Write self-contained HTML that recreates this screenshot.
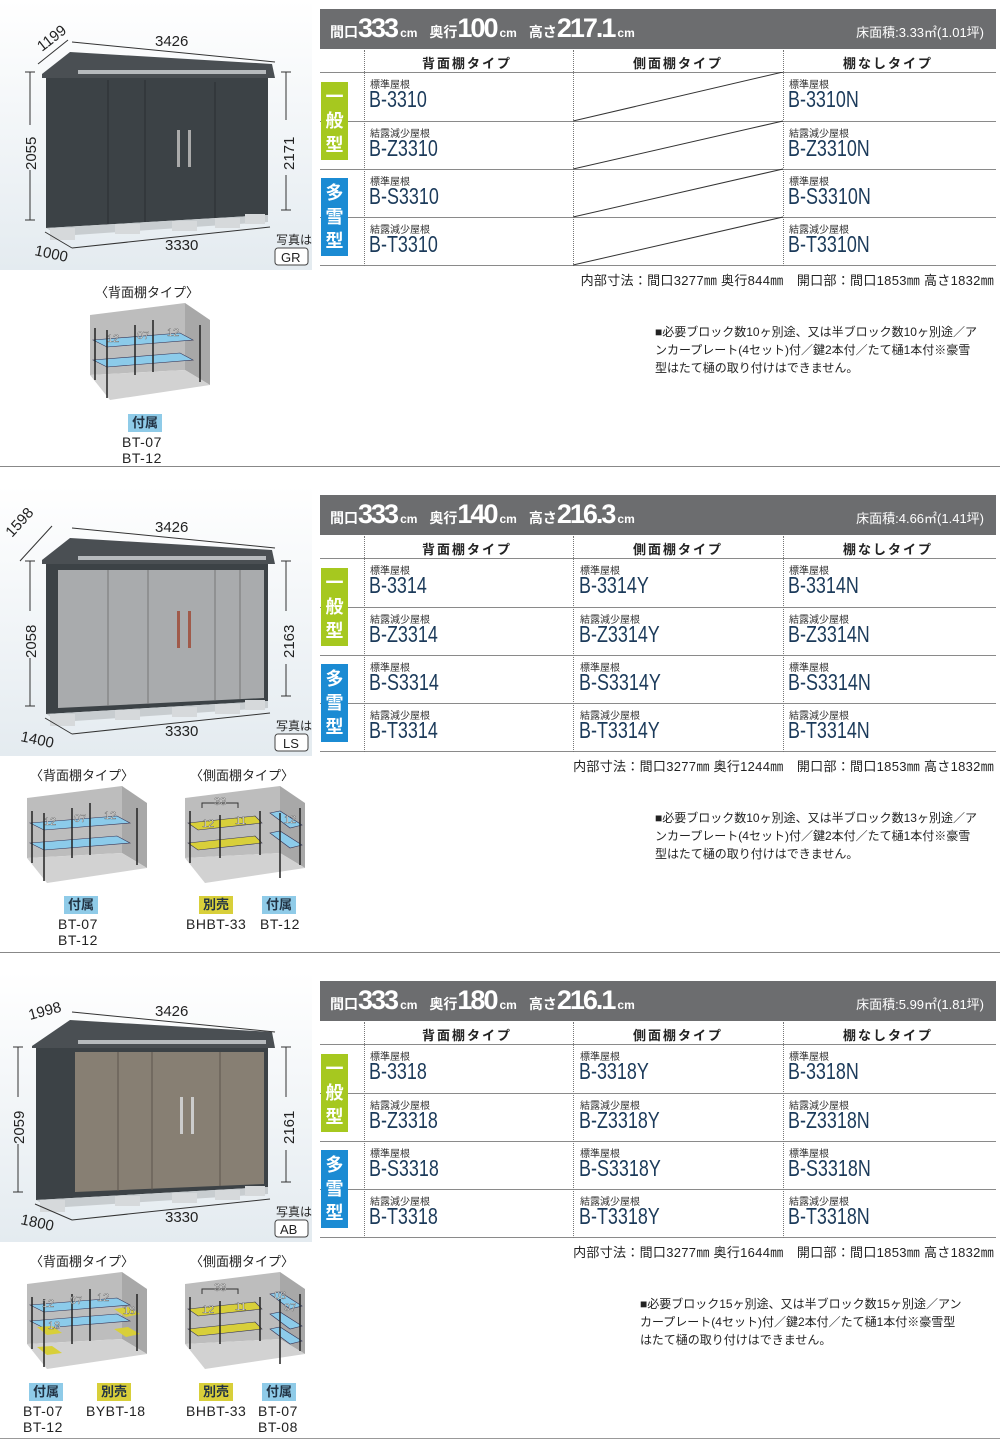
<!DOCTYPE html>
<html><head><meta charset="utf-8">
<style>
*{margin:0;padding:0;box-sizing:border-box}
body{width:1000px;height:1446px;background:#fff;position:relative;overflow:hidden;font-family:"Liberation Sans","Noto Sans CJK JP",sans-serif;color:#222}
.a{position:absolute}
.hdr{position:absolute;left:320px;width:676px;height:40px;background:#6c6d6f;color:#fff}
.hdr .t{position:absolute;left:10px;top:4px;font-weight:bold;font-size:14px;white-space:nowrap}
.hdr .t b{font-size:27px;letter-spacing:-2px}
.hdr .t i{font-style:normal;font-size:12px;margin:0 12px 0 3px}
.hdr .r{position:absolute;right:12px;top:13px;font-size:13px}
.ch{position:absolute;font-weight:bold;font-size:13px;letter-spacing:2px;text-align:center;width:200px}
.hl{position:absolute;left:320px;width:676px;height:1px;background:#8a8a8a}
.vl{position:absolute;width:0;border-left:1px dotted #777}
.tag{position:absolute;left:321px;width:27px;height:78px;color:#fff;font-weight:bold;font-size:18px;line-height:24px;text-align:center;padding-top:3px}
.g{background:#a6c81f}.bl{background:#1b8bd3}
.sm{position:absolute;font-size:10px;color:#333}
.md{position:absolute;font-size:23px;color:#1b3a5a;transform:scaleX(0.78);transform-origin:0 0;white-space:nowrap}
.ft{position:absolute;right:6px;font-size:13px;letter-spacing:0.3px;white-space:nowrap}
.nt{position:absolute;font-size:12px;line-height:18px;white-space:nowrap}
.sep{position:absolute;left:0;width:1000px;height:1px;background:#888}
.lab{position:absolute;font-size:13px;text-align:center;white-space:nowrap}
.tg{position:absolute;font-size:13px;font-weight:bold;padding:0 4px;line-height:18px;color:#234}
.tb{background:#8fcbe8}.ty{background:#d8cf3a}
.cd{position:absolute;font-size:14px;line-height:16px;text-align:center;white-space:nowrap;letter-spacing:.5px}
</style></head><body>

<!-- ========== SECTION 1 ========== -->
<svg class="a" style="left:0;top:0" width="315" height="272">
<defs><linearGradient id="bg" x1="0" y1="0" x2="0" y2="1"><stop offset="0" stop-color="#fff"/><stop offset="1" stop-color="#e4ebf0"/></linearGradient></defs>
<rect x="0" y="0" width="312" height="270" fill="url(#bg)"/>
<polygon points="42,74 70,52 272,64 275,78 42,78" fill="#4a4f53"/>
<polygon points="46,78 268,78 268,215 46,228" fill="#3c4246"/>
<rect x="78" y="70" width="188" height="4" fill="#b6babd"/>
<line x1="108" y1="80" x2="108" y2="224" stroke="#2a2e31"/>
<line x1="145" y1="80" x2="145" y2="222" stroke="#2a2e31"/>
<line x1="215" y1="82" x2="215" y2="218" stroke="#2a2e31"/>
<rect x="177" y="130" width="3" height="37" fill="#aaa"/><rect x="188" y="130" width="3" height="37" fill="#aaa"/>
<polygon points="46,228 268,215 268,222 60,236" fill="#c8cdd0"/>
<g fill="#d6d9db"><rect x="50" y="228" width="25" height="12"/><rect x="115" y="224" width="25" height="10"/><rect x="172" y="221" width="25" height="10"/><rect x="215" y="218" width="25" height="10"/><rect x="245" y="214" width="20" height="10"/></g>
<g stroke="#333" fill="none" stroke-width="1">
<line x1="72" y1="42" x2="275" y2="62"/><line x1="38" y1="64" x2="68" y2="40"/>
<line x1="30" y1="72" x2="30" y2="125"/><line x1="30" y1="170" x2="30" y2="220"/><line x1="25" y1="72" x2="35" y2="72"/><line x1="25" y1="220" x2="35" y2="220"/>
<line x1="286" y1="72" x2="286" y2="120"/><line x1="286" y1="175" x2="286" y2="210"/><line x1="281" y1="72" x2="291" y2="72"/><line x1="281" y1="210" x2="291" y2="210"/>
<line x1="72" y1="248" x2="270" y2="227"/><line x1="45" y1="232" x2="72" y2="248"/>
</g>
<g font-size="15" fill="#222" font-family="Liberation Sans,sans-serif">
<text x="155" y="46">3426</text>
<text x="0" y="0" transform="translate(42,52) rotate(-38)">1199</text>
<text x="0" y="0" transform="translate(36,170) rotate(-90)">2055</text>
<text x="0" y="0" transform="translate(294,170) rotate(-90)">2171</text>
<text x="165" y="250">3330</text>
<text x="0" y="0" transform="translate(34,255) rotate(12)">1000</text>
<text x="276" y="244" font-size="12">写真は</text>
</g>
<rect x="275" y="248" width="33" height="17" rx="3" fill="#fff" stroke="#444"/>
<text x="281" y="262" font-size="13" fill="#222">GR</text>
</svg>

<div class="hdr" style="top:9px"><div class="t">間口<b>333</b><i>cm</i>奥行<b>100</b><i>cm</i>高さ<b>217.1</b><i>cm</i></div><div class="r">床面積:3.33㎡(1.01坪)</div></div>
<div class="ch" style="left:367px;top:53px">背面棚タイプ</div>
<div class="ch" style="left:578px;top:53px">側面棚タイプ</div>
<div class="ch" style="left:788px;top:53px">棚なしタイプ</div>
<div class="hl" style="top:72px"></div><div class="hl" style="top:121px"></div><div class="hl" style="top:169px"></div><div class="hl" style="top:217px"></div><div class="hl" style="top:265px"></div>
<div class="vl" style="left:364px;top:50px;height:216px"></div><div class="vl" style="left:573px;top:50px;height:216px"></div><div class="vl" style="left:783px;top:50px;height:216px"></div>
<svg class="a" style="left:573px;top:72px" width="211" height="194"><g stroke="#333"><line x1="0" y1="49" x2="210" y2="0"/><line x1="0" y1="97" x2="210" y2="49"/><line x1="0" y1="145" x2="210" y2="97"/><line x1="0" y1="193" x2="210" y2="145"/></g></svg>
<div class="tag g" style="top:82px">一<br>般<br>型</div><div class="tag bl" style="top:178px">多<br>雪<br>型</div>
<div class="sm" style="left:370px;top:76px">標準屋根</div><div class="md" style="left:369px;top:86px">B-3310</div>
<div class="sm" style="left:370px;top:125px">結露減少屋根</div><div class="md" style="left:369px;top:135px">B-Z3310</div>
<div class="sm" style="left:370px;top:173px">標準屋根</div><div class="md" style="left:369px;top:183px">B-S3310</div>
<div class="sm" style="left:370px;top:221px">結露減少屋根</div><div class="md" style="left:369px;top:231px">B-T3310</div>
<div class="sm" style="left:789px;top:76px">標準屋根</div><div class="md" style="left:788px;top:86px">B-3310N</div>
<div class="sm" style="left:789px;top:125px">結露減少屋根</div><div class="md" style="left:788px;top:135px">B-Z3310N</div>
<div class="sm" style="left:789px;top:173px">標準屋根</div><div class="md" style="left:788px;top:183px">B-S3310N</div>
<div class="sm" style="left:789px;top:221px">結露減少屋根</div><div class="md" style="left:788px;top:231px">B-T3310N</div>
<div class="ft" style="top:270px">内部寸法：間口3277㎜ 奥行844㎜　開口部：間口1853㎜ 高さ1832㎜</div>
<div class="nt" style="left:655px;top:323px">■必要ブロック数10ヶ別途、又は半ブロック数10ヶ別途／ア<br>ンカープレート(4セット)付／鍵2本付／たて樋1本付※豪雪<br>型はたて樋の取り付けはできません。</div>

<div class="lab" style="left:95px;top:282px">〈背面棚タイプ〉</div>
<svg class="a" style="left:85px;top:300px" width="130" height="105" viewBox="0 0 130 105">
<polygon points="5,15 100,3 100,70 5,75" fill="#bdbdbd"/><polygon points="100,3 125,20 125,85 100,70" fill="#a8a8a8"/><polygon points="5,75 100,70 125,85 25,100" fill="#d2d2d2"/>
<polygon points="8,40 95,33 108,40 22,47" fill="#8ccbea" stroke="#335" stroke-width=".6"/><polygon points="8,60 95,53 108,60 22,67" fill="#8ccbea" stroke="#335" stroke-width=".6"/>
<g stroke="#222" stroke-width="1.5"><line x1="10" y1="28" x2="10" y2="80"/><line x1="22" y1="30" x2="22" y2="98"/><line x1="50" y1="25" x2="50" y2="75"/><line x1="68" y1="20" x2="68" y2="72"/><line x1="115" y1="25" x2="115" y2="82"/></g>
<g font-size="11" fill="#fff" stroke="#333" stroke-width=".3"><text x="22" y="42">12</text><text x="52" y="39">07</text><text x="82" y="36">12</text></g>
</svg>
<div class="tg tb" style="left:128px;top:414px">付属</div>
<div class="cd" style="left:122px;top:434px">BT-07<br>BT-12</div>

<div class="sep" style="top:466px"></div>

<!-- ========== SECTION 2 ========== -->
<svg class="a" style="left:0;top:486px" width="315" height="272">
<rect x="0" y="0" width="312" height="270" fill="url(#bg)"/>
<polygon points="42,74 70,52 272,64 275,78 42,78" fill="#4a4f53"/>
<polygon points="46,78 268,78 268,215 46,228" fill="#3c4246"/>
<polygon points="58,84 264,84 264,212 58,222" fill="#a9abad"/>
<rect x="78" y="70" width="188" height="4" fill="#b6babd"/>
<line x1="108" y1="84" x2="108" y2="220" stroke="#777"/><line x1="148" y1="84" x2="148" y2="218" stroke="#777"/><line x1="215" y1="84" x2="215" y2="214" stroke="#777"/><line x1="240" y1="84" x2="240" y2="213" stroke="#777"/>
<rect x="177" y="125" width="3" height="37" fill="#a05a4a"/><rect x="188" y="125" width="3" height="37" fill="#a05a4a"/>
<polygon points="46,228 268,215 268,222 60,236" fill="#c8cdd0"/>
<g fill="#d6d9db"><rect x="50" y="228" width="25" height="12"/><rect x="115" y="224" width="25" height="10"/><rect x="172" y="221" width="25" height="10"/><rect x="215" y="218" width="25" height="10"/><rect x="245" y="214" width="20" height="10"/></g>
<g stroke="#333" fill="none"><line x1="72" y1="42" x2="275" y2="62"/><line x1="20" y1="75" x2="52" y2="40"/>
<line x1="30" y1="75" x2="30" y2="125"/><line x1="30" y1="172" x2="30" y2="220"/><line x1="25" y1="75" x2="35" y2="75"/><line x1="25" y1="220" x2="35" y2="220"/>
<line x1="286" y1="75" x2="286" y2="125"/><line x1="286" y1="178" x2="286" y2="210"/><line x1="281" y1="75" x2="291" y2="75"/><line x1="281" y1="210" x2="291" y2="210"/>
<line x1="72" y1="248" x2="270" y2="227"/><line x1="45" y1="232" x2="72" y2="248"/></g>
<g font-size="15" fill="#222">
<text x="155" y="46">3426</text><text transform="translate(12,52) rotate(-48)">1598</text>
<text transform="translate(36,172) rotate(-90)">2058</text><text transform="translate(294,172) rotate(-90)">2163</text>
<text x="165" y="250">3330</text><text transform="translate(20,255) rotate(12)">1400</text>
<text x="276" y="244" font-size="12">写真は</text></g>
<rect x="275" y="248" width="33" height="17" rx="3" fill="#fff" stroke="#444"/><text x="283" y="262" font-size="13" fill="#222">LS</text>
</svg>

<div class="hdr" style="top:495px"><div class="t">間口<b>333</b><i>cm</i>奥行<b>140</b><i>cm</i>高さ<b>216.3</b><i>cm</i></div><div class="r">床面積:4.66㎡(1.41坪)</div></div>
<div class="ch" style="left:367px;top:539px">背面棚タイプ</div>
<div class="ch" style="left:578px;top:539px">側面棚タイプ</div>
<div class="ch" style="left:788px;top:539px">棚なしタイプ</div>
<div class="hl" style="top:558px"></div><div class="hl" style="top:607px"></div><div class="hl" style="top:655px"></div><div class="hl" style="top:703px"></div><div class="hl" style="top:751px"></div>
<div class="vl" style="left:364px;top:536px;height:216px"></div><div class="vl" style="left:573px;top:536px;height:216px"></div><div class="vl" style="left:783px;top:536px;height:216px"></div>
<div class="tag g" style="top:568px">一<br>般<br>型</div><div class="tag bl" style="top:664px">多<br>雪<br>型</div>
<div class="sm" style="left:370px;top:562px">標準屋根</div><div class="md" style="left:369px;top:572px">B-3314</div>
<div class="sm" style="left:370px;top:611px">結露減少屋根</div><div class="md" style="left:369px;top:621px">B-Z3314</div>
<div class="sm" style="left:370px;top:659px">標準屋根</div><div class="md" style="left:369px;top:669px">B-S3314</div>
<div class="sm" style="left:370px;top:707px">結露減少屋根</div><div class="md" style="left:369px;top:717px">B-T3314</div>
<div class="sm" style="left:580px;top:562px">標準屋根</div><div class="md" style="left:579px;top:572px">B-3314Y</div>
<div class="sm" style="left:580px;top:611px">結露減少屋根</div><div class="md" style="left:579px;top:621px">B-Z3314Y</div>
<div class="sm" style="left:580px;top:659px">標準屋根</div><div class="md" style="left:579px;top:669px">B-S3314Y</div>
<div class="sm" style="left:580px;top:707px">結露減少屋根</div><div class="md" style="left:579px;top:717px">B-T3314Y</div>
<div class="sm" style="left:789px;top:562px">標準屋根</div><div class="md" style="left:788px;top:572px">B-3314N</div>
<div class="sm" style="left:789px;top:611px">結露減少屋根</div><div class="md" style="left:788px;top:621px">B-Z3314N</div>
<div class="sm" style="left:789px;top:659px">標準屋根</div><div class="md" style="left:788px;top:669px">B-S3314N</div>
<div class="sm" style="left:789px;top:707px">結露減少屋根</div><div class="md" style="left:788px;top:717px">B-T3314N</div>
<div class="ft" style="top:756px">内部寸法：間口3277㎜ 奥行1244㎜　開口部：間口1853㎜ 高さ1832㎜</div>
<div class="nt" style="left:655px;top:809px">■必要ブロック数10ヶ別途、又は半ブロック数13ヶ別途／ア<br>ンカープレート(4セット)付／鍵2本付／たて樋1本付※豪雪<br>型はたて樋の取り付けはできません。</div>

<div class="lab" style="left:30px;top:765px">〈背面棚タイプ〉</div>
<div class="lab" style="left:190px;top:765px">〈側面棚タイプ〉</div>
<svg class="a" style="left:22px;top:783px" width="130" height="105" viewBox="0 0 130 105">
<polygon points="5,15 100,3 100,70 5,75" fill="#bdbdbd"/><polygon points="100,3 125,20 125,85 100,70" fill="#a8a8a8"/><polygon points="5,75 100,70 125,85 25,100" fill="#d2d2d2"/>
<polygon points="8,40 95,33 108,40 22,47" fill="#8ccbea" stroke="#335" stroke-width=".6"/><polygon points="8,60 95,53 108,60 22,67" fill="#8ccbea" stroke="#335" stroke-width=".6"/>
<g stroke="#222" stroke-width="1.5"><line x1="10" y1="28" x2="10" y2="80"/><line x1="22" y1="30" x2="22" y2="98"/><line x1="50" y1="25" x2="50" y2="75"/><line x1="68" y1="20" x2="68" y2="72"/><line x1="115" y1="25" x2="115" y2="82"/></g>
<g font-size="11" fill="#fff" stroke="#333" stroke-width=".3"><text x="22" y="42">12</text><text x="52" y="39">07</text><text x="82" y="36">12</text></g></svg>
<svg class="a" style="left:180px;top:783px" width="130" height="105" viewBox="0 0 130 105">
<polygon points="5,15 100,3 100,70 5,75" fill="#bdbdbd"/><polygon points="100,3 125,20 125,85 100,70" fill="#a8a8a8"/><polygon points="5,75 100,70 125,85 25,100" fill="#d2d2d2"/>
<polygon points="8,40 75,33 82,40 18,47" fill="#d8cf3a" stroke="#335" stroke-width=".6"/><polygon points="8,60 75,53 82,60 18,67" fill="#d8cf3a" stroke="#335" stroke-width=".6"/>
<polygon points="90,30 100,28 122,42 110,45" fill="#8ccbea" stroke="#335" stroke-width=".6"/><polygon points="90,50 100,48 122,62 110,65" fill="#8ccbea" stroke="#335" stroke-width=".6"/>
<g stroke="#222" stroke-width="1.5"><line x1="10" y1="28" x2="10" y2="80"/><line x1="40" y1="32" x2="40" y2="75"/><line x1="80" y1="28" x2="80" y2="72"/><line x1="100" y1="30" x2="100" y2="95"/><line x1="120" y1="25" x2="120" y2="82"/></g>
<path d="M22,25 V20 H58 V25" stroke="#333" fill="none"/><text x="34" y="22" font-size="11" fill="#fff" stroke="#333" stroke-width=".3">33</text>
<g font-size="11" fill="#fff" stroke="#333" stroke-width=".3"><text x="22" y="44">12</text><text x="55" y="41">11</text><text x="104" y="40">12</text></g></svg>
<div class="tg tb" style="left:64px;top:896px">付属</div><div class="cd" style="left:58px;top:916px">BT-07<br>BT-12</div>
<div class="tg ty" style="left:199px;top:896px">別売</div><div class="cd" style="left:186px;top:916px">BHBT-33</div>
<div class="tg tb" style="left:262px;top:896px">付属</div><div class="cd" style="left:260px;top:916px">BT-12</div>

<div class="sep" style="top:952px"></div>

<!-- ========== SECTION 3 ========== -->
<svg class="a" style="left:0;top:972px" width="315" height="272">
<rect x="0" y="0" width="312" height="270" fill="url(#bg)"/>
<polygon points="32,74 70,48 272,60 275,76 32,76" fill="#4a4f53"/>
<polygon points="36,76 268,76 268,215 36,228" fill="#3c4246"/>
<polygon points="75,80 264,80 264,212 75,220" fill="#877f73"/>
<rect x="78" y="68" width="188" height="4" fill="#b6babd"/>
<line x1="118" y1="80" x2="118" y2="219" stroke="#5d564d"/><line x1="152" y1="80" x2="152" y2="218" stroke="#5d564d"/><line x1="220" y1="80" x2="220" y2="214" stroke="#5d564d"/>
<rect x="180" y="125" width="3" height="37" fill="#ccc"/><rect x="191" y="125" width="3" height="37" fill="#ccc"/>
<polygon points="36,228 268,215 268,222 50,236" fill="#c8cdd0"/>
<g fill="#d6d9db"><rect x="40" y="228" width="25" height="12"/><rect x="115" y="224" width="25" height="10"/><rect x="172" y="221" width="25" height="10"/><rect x="215" y="218" width="25" height="10"/><rect x="245" y="214" width="20" height="10"/></g>
<g stroke="#333" fill="none"><line x1="72" y1="40" x2="275" y2="60"/>
<line x1="18" y1="75" x2="18" y2="125"/><line x1="18" y1="172" x2="18" y2="220"/><line x1="13" y1="75" x2="23" y2="75"/><line x1="13" y1="220" x2="23" y2="220"/>
<line x1="286" y1="75" x2="286" y2="125"/><line x1="286" y1="178" x2="286" y2="210"/><line x1="281" y1="75" x2="291" y2="75"/><line x1="281" y1="210" x2="291" y2="210"/>
<line x1="72" y1="248" x2="270" y2="227"/><line x1="35" y1="232" x2="72" y2="248"/></g>
<g font-size="15" fill="#222">
<text x="155" y="44">3426</text><text transform="translate(30,48) rotate(-15)">1998</text>
<text transform="translate(24,172) rotate(-90)">2059</text><text transform="translate(294,172) rotate(-90)">2161</text>
<text x="165" y="250">3330</text><text transform="translate(20,252) rotate(12)">1800</text>
<text x="276" y="244" font-size="12">写真は</text></g>
<rect x="275" y="248" width="33" height="17" rx="3" fill="#fff" stroke="#444"/><text x="280" y="262" font-size="13" fill="#222">AB</text>
</svg>

<div class="hdr" style="top:981px"><div class="t">間口<b>333</b><i>cm</i>奥行<b>180</b><i>cm</i>高さ<b>216.1</b><i>cm</i></div><div class="r">床面積:5.99㎡(1.81坪)</div></div>
<div class="ch" style="left:367px;top:1025px">背面棚タイプ</div>
<div class="ch" style="left:578px;top:1025px">側面棚タイプ</div>
<div class="ch" style="left:788px;top:1025px">棚なしタイプ</div>
<div class="hl" style="top:1044px"></div><div class="hl" style="top:1093px"></div><div class="hl" style="top:1141px"></div><div class="hl" style="top:1189px"></div><div class="hl" style="top:1237px"></div>
<div class="vl" style="left:364px;top:1022px;height:216px"></div><div class="vl" style="left:573px;top:1022px;height:216px"></div><div class="vl" style="left:783px;top:1022px;height:216px"></div>
<div class="tag g" style="top:1054px">一<br>般<br>型</div><div class="tag bl" style="top:1150px">多<br>雪<br>型</div>
<div class="sm" style="left:370px;top:1048px">標準屋根</div><div class="md" style="left:369px;top:1058px">B-3318</div>
<div class="sm" style="left:370px;top:1097px">結露減少屋根</div><div class="md" style="left:369px;top:1107px">B-Z3318</div>
<div class="sm" style="left:370px;top:1145px">標準屋根</div><div class="md" style="left:369px;top:1155px">B-S3318</div>
<div class="sm" style="left:370px;top:1193px">結露減少屋根</div><div class="md" style="left:369px;top:1203px">B-T3318</div>
<div class="sm" style="left:580px;top:1048px">標準屋根</div><div class="md" style="left:579px;top:1058px">B-3318Y</div>
<div class="sm" style="left:580px;top:1097px">結露減少屋根</div><div class="md" style="left:579px;top:1107px">B-Z3318Y</div>
<div class="sm" style="left:580px;top:1145px">標準屋根</div><div class="md" style="left:579px;top:1155px">B-S3318Y</div>
<div class="sm" style="left:580px;top:1193px">結露減少屋根</div><div class="md" style="left:579px;top:1203px">B-T3318Y</div>
<div class="sm" style="left:789px;top:1048px">標準屋根</div><div class="md" style="left:788px;top:1058px">B-3318N</div>
<div class="sm" style="left:789px;top:1097px">結露減少屋根</div><div class="md" style="left:788px;top:1107px">B-Z3318N</div>
<div class="sm" style="left:789px;top:1145px">標準屋根</div><div class="md" style="left:788px;top:1155px">B-S3318N</div>
<div class="sm" style="left:789px;top:1193px">結露減少屋根</div><div class="md" style="left:788px;top:1203px">B-T3318N</div>
<div class="ft" style="top:1242px">内部寸法：間口3277㎜ 奥行1644㎜　開口部：間口1853㎜ 高さ1832㎜</div>
<div class="nt" style="left:640px;top:1295px">■必要ブロック15ヶ別途、又は半ブロック数15ヶ別途／アン<br>カープレート(4セット)付／鍵2本付／たて樋1本付※豪雪型<br>はたて樋の取り付けはできません。</div>

<div class="lab" style="left:30px;top:1251px">〈背面棚タイプ〉</div>
<div class="lab" style="left:190px;top:1251px">〈側面棚タイプ〉</div>
<svg class="a" style="left:22px;top:1269px" width="130" height="105" viewBox="0 0 130 105">
<polygon points="5,15 100,3 100,70 5,75" fill="#bdbdbd"/><polygon points="100,3 125,20 125,85 100,70" fill="#a8a8a8"/><polygon points="5,75 100,70 125,85 25,100" fill="#d2d2d2"/>
<polygon points="8,36 95,29 108,36 22,43" fill="#8ccbea" stroke="#335" stroke-width=".6"/><polygon points="8,52 95,45 108,52 22,59" fill="#8ccbea" stroke="#335" stroke-width=".6"/>
<polygon points="15,58 30,57 40,64 25,66" fill="#d8cf3a"/><polygon points="15,78 30,77 40,84 25,86" fill="#d8cf3a"/>
<polygon points="92,40 106,38 118,45 104,48" fill="#d8cf3a"/><polygon points="92,60 106,58 118,65 104,68" fill="#d8cf3a"/>
<g stroke="#222" stroke-width="1.5"><line x1="10" y1="28" x2="10" y2="80"/><line x1="22" y1="30" x2="22" y2="98"/><line x1="50" y1="25" x2="50" y2="75"/><line x1="68" y1="20" x2="68" y2="72"/><line x1="115" y1="25" x2="115" y2="82"/></g>
<g font-size="11" fill="#fff" stroke="#333" stroke-width=".3"><text x="20" y="38">12</text><text x="48" y="35">07</text><text x="75" y="32">12</text><text x="26" y="60">18</text><text x="101" y="45">18</text></g></svg>
<svg class="a" style="left:180px;top:1269px" width="130" height="105" viewBox="0 0 130 105">
<polygon points="5,15 100,3 100,70 5,75" fill="#bdbdbd"/><polygon points="100,3 125,20 125,85 100,70" fill="#a8a8a8"/><polygon points="5,75 100,70 125,85 25,100" fill="#d2d2d2"/>
<polygon points="8,40 75,33 82,40 18,47" fill="#d8cf3a" stroke="#335" stroke-width=".6"/><polygon points="8,60 75,53 82,60 18,67" fill="#d8cf3a" stroke="#335" stroke-width=".6"/>
<polygon points="90,25 100,23 122,37 110,40" fill="#8ccbea" stroke="#335" stroke-width=".6"/><polygon points="90,45 100,43 122,57 110,60" fill="#8ccbea" stroke="#335" stroke-width=".6"/><polygon points="90,60 100,58 122,72 110,75" fill="#8ccbea" stroke="#335" stroke-width=".6"/>
<g stroke="#222" stroke-width="1.5"><line x1="10" y1="28" x2="10" y2="80"/><line x1="40" y1="32" x2="40" y2="75"/><line x1="80" y1="28" x2="80" y2="72"/><line x1="100" y1="30" x2="100" y2="95"/><line x1="120" y1="25" x2="120" y2="82"/></g>
<path d="M22,25 V20 H58 V25" stroke="#333" fill="none"/><text x="34" y="22" font-size="11" fill="#fff" stroke="#333" stroke-width=".3">33</text>
<g font-size="11" fill="#fff" stroke="#333" stroke-width=".3"><text x="22" y="44">12</text><text x="55" y="41">11</text><text x="94" y="30">08</text><text x="104" y="42">07</text></g></svg>
<div class="tg tb" style="left:29px;top:1383px">付属</div><div class="cd" style="left:23px;top:1403px">BT-07<br>BT-12</div>
<div class="tg ty" style="left:97px;top:1383px">別売</div><div class="cd" style="left:86px;top:1403px">BYBT-18</div>
<div class="tg ty" style="left:199px;top:1383px">別売</div><div class="cd" style="left:186px;top:1403px">BHBT-33</div>
<div class="tg tb" style="left:262px;top:1383px">付属</div><div class="cd" style="left:258px;top:1403px">BT-07<br>BT-08</div>
<div class="sep" style="top:1438px;background:#999"></div>
</body></html>
